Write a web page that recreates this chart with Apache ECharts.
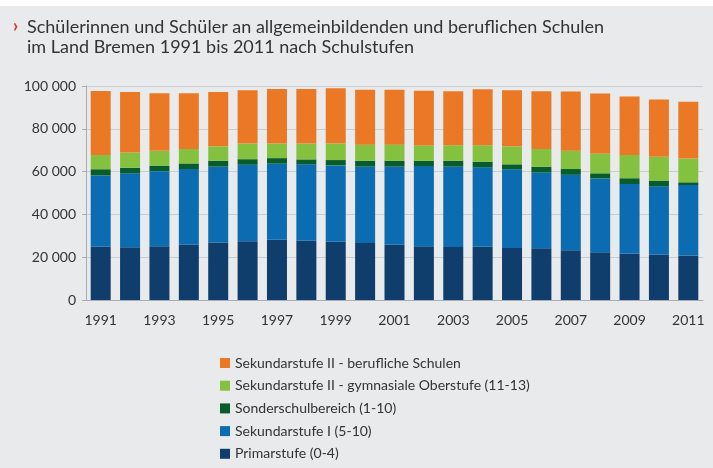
<!DOCTYPE html>
<html>
<head>
<meta charset="utf-8">
<script src="https://cdn.jsdelivr.net/npm/echarts@6/dist/echarts.min.js"></script>
<style>
  html, body { margin: 0; padding: 0; background: #e8eaec; }
  #chart { width: 713px; height: 468px; }
</style>
</head>
<body>
<div id="chart"></div>
<script>
// Jahre (Kategorien)
const years = ['1991', '1992', '1993', '1994', '1995', '1996', '1997', '1998', '1999', '2000',
  '2001', '2002', '2003', '2004', '2005', '2006', '2007', '2008', '2009', '2010', '2011'];

// Schülerzahlen je Schulstufe
const primarstufe = [24900, 24600, 25100, 25800, 26900, 27500, 28200, 27700, 27200, 26600,
  25800, 25100, 24800, 24900, 24300, 24200, 23200, 22300, 21700, 21200, 20800];
const sekundarstufeI = [33300, 34600, 35100, 35400, 35400, 35700, 35500, 35700, 35700, 35700,
  36500, 37500, 37500, 37100, 36800, 35300, 35300, 34500, 32500, 31900, 32900];
const sonderschule = [2900, 2600, 2600, 2600, 2800, 2600, 2600, 2300, 2500, 2800,
  2800, 2500, 2800, 2600, 2300, 2800, 2700, 2400, 2700, 2700, 1300];
const gymnOberstufe = [6700, 7100, 6900, 6800, 6700, 7300, 6800, 7400, 7700, 7500,
  7500, 7100, 7200, 7700, 8400, 8300, 8600, 9300, 10900, 11100, 11100];
const beruflicheSchulen = [29900, 28300, 26900, 26000, 25400, 24900, 25500, 25500, 25800, 25600,
  25600, 25600, 25200, 26200, 26200, 26900, 27600, 28000, 27300, 26800, 26500];

const yTicks = [0, 20000, 40000, 60000, 80000, 100000];

const fmt = v => String(v).replace(/\B(?=(\d{3})+(?!\d))/g, ' ');

const font = 'Lato';

function bar(name, data, color) {
  return {
    name: name,
    type: 'bar',
    stack: 'total',
    barWidth: 20,
    itemStyle: { color: color },
    emphasis: { disabled: true },
    data: data
  };
}

const chart = echarts.init(document.getElementById('chart'));

chart.setOption({
  backgroundColor: '#e8eaec',
  animation: false,
  textStyle: { fontFamily: font },
  graphic: [
    { type: 'rect', shape: { x: 0, y: 0, width: 713, height: 6 }, style: { fill: '#ffffff' } },
    {
      type: 'text', left: 13, top: 17,
      style: { text: '›', fill: '#d6332a', font: 'bold 18px ' + font }
    }
  ],
  title: {
    text: 'Schülerinnen und Schüler an allgemeinbildenden und beruflichen Schulen\nim Land Bremen 1991 bis 2011 nach Schulstufen',
    left: 27,
    top: 17,
    padding: 0,
    textStyle: { fontFamily: font, fontSize: 18, fontWeight: 'normal', color: '#333333', lineHeight: 20 }
  },
  grid: { left: 86, right: 10, top: 86, bottom: 168 },
  legend: {
    orient: 'vertical',
    left: 215,
    top: 351,
    itemWidth: 10,
    itemHeight: 10,
    itemGap: 8.7,
    icon: 'rect',
    textStyle: { fontFamily: font, fontSize: 14, color: '#333333' },
    data: ['Sekundarstufe II - berufliche Schulen', 'Sekundarstufe II - gymnasiale Oberstufe (11-13)',
      'Sonderschulbereich (1-10)', 'Sekundarstufe I (5-10)', 'Primarstufe (0-4)']
  },
  xAxis: {
    type: 'category',
    data: years,
    axisLine: { show: true, lineStyle: { color: '#a8acb0' } },
    axisTick: { show: false },
    axisLabel: { interval: 1, color: '#333333', fontSize: 14, margin: 13, fontFamily: font }
  },
  yAxis: {
    type: 'value',
    min: yTicks[0],
    max: yTicks[yTicks.length - 1],
    interval: 20000,
    axisLine: { show: true, lineStyle: { color: '#a8acb0' } },
    axisTick: { show: true, length: 4, lineStyle: { color: '#a8acb0' } },
    splitLine: { lineStyle: { color: '#c9cdd1' } },
    axisLabel: { color: '#333333', fontSize: 14, margin: 10, fontFamily: font, formatter: fmt }
  },
  series: [
    bar('Primarstufe (0-4)', primarstufe, '#0f3d6c'),
    bar('Sekundarstufe I (5-10)', sekundarstufeI, '#0c6cb2'),
    bar('Sonderschulbereich (1-10)', sonderschule, '#075c2c'),
    bar('Sekundarstufe II - gymnasiale Oberstufe (11-13)', gymnOberstufe, '#84c13f'),
    bar('Sekundarstufe II - berufliche Schulen', beruflicheSchulen, '#ea7824')
  ]
});
</script>
</body>
</html>
